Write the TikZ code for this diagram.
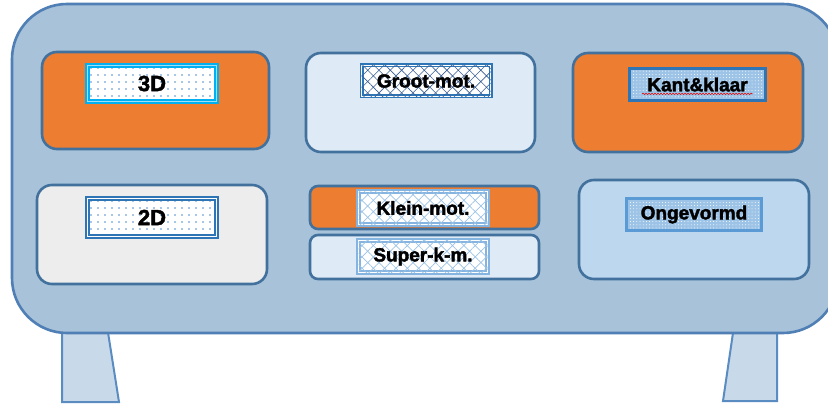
\documentclass[tikz,border=0pt]{standalone}
\usepackage{fontspec}
\setmainfont{Liberation Sans}
\newfontfamily\heavyfont{Liberation Sans Bold}[FakeBold=2]
\usetikzlibrary{patterns.meta,decorations.pathmorphing}
\definecolor{bodyfill}{HTML}{A8C2DA}
\definecolor{bodyline}{HTML}{4F7FB5}
\definecolor{boxline}{HTML}{41719C}
\definecolor{legfill}{HTML}{C8D9E9}
\definecolor{legline}{HTML}{5A8CC2}
\definecolor{orangefill}{HTML}{ED7D31}
\definecolor{palefill}{HTML}{DEEBF7}
\definecolor{grayfill}{HTML}{EDEDED}
\definecolor{skyfill}{HTML}{BDD7EE}
\definecolor{cyanline}{HTML}{00B0F0}
\definecolor{cyanlight}{HTML}{9FE0F8}
\definecolor{midblue}{HTML}{2E75B6}
\definecolor{lightblue}{HTML}{9DC3E6}
\definecolor{softblue}{HTML}{5B9BD5}
\definecolor{dotblue}{HTML}{4F8FD0}
\definecolor{hatchdark}{HTML}{3A5F95}
\begin{document}
\begin{tikzpicture}[x=1pt,y=-1pt,
  box/.style={draw=boxline, line width=2.6pt, rounded corners=15pt, inner sep=0pt},
  lab/.style={inner sep=0pt, font=\heavyfont\fontsize{19}{20}\selectfont},
  dotlab/.style={lab, draw=cyanline, double=cyanlight, double distance=1.2pt, line width=1.9pt,
     preaction={fill=white}, pattern={Dots[distance=7pt,radius=0.8pt]}, pattern color=dotblue},
  hatchlab/.style={lab, draw=midblue, double=white, double distance=0.8pt, line width=1.6pt,
     preaction={fill=white}, postaction={pattern={Hatch[angle=45,distance=8pt,line width=0.6pt]}, pattern color=hatchdark}},
  softhatchlab/.style={lab, draw=lightblue, double=white, double distance=0.8pt, line width=1.7pt,
     preaction={fill=white}, postaction={pattern={Hatch[angle=45,distance=8pt,line width=0.7pt]}, pattern color=lightblue}},
  bluedotlab/.style={lab, line width=2.4pt,
     preaction={fill=lightblue}, pattern={Dots[distance=3.2pt,radius=0.5pt]}, pattern color=white},
  legshape/.style={draw=legline, fill=legfill, line width=2pt, line join=miter}
]
\useasboundingbox (0,0) rectangle (828,404);
\fill[white] (0,0) rectangle (828,404);
% legs
\draw[legshape] (62,326) -- (107,326) -- (119,402) -- (62,402) -- cycle;
\draw[legshape] (734,326) -- (777,326) -- (777,401) -- (723,401) -- cycle;
% main body
\node[draw=bodyline, fill=bodyfill, line width=2.6pt, rounded corners=55pt,
      minimum width=826pt, minimum height=329pt, inner sep=0pt] (body) at (425,168.5) {};
% boxes
\node[box, fill=orangefill, minimum width=227pt, minimum height=97pt] (b3d) at (155.5,100.5) {};
\node[box, fill=palefill,   minimum width=229pt, minimum height=99pt] (bgroot) at (420.5,102.5) {};
\node[box, fill=orangefill, minimum width=230pt, minimum height=99pt] (bkant) at (688,102.5) {};
\node[box, fill=grayfill,   minimum width=230pt, minimum height=99pt] (b2d) at (152,234.5) {};
\node[box, fill=orangefill, minimum width=229pt, minimum height=43pt, rounded corners=8pt] (bklein) at (424.5,207.5) {};
\node[box, fill=palefill,   minimum width=229pt, minimum height=44pt, rounded corners=8pt] (bsuper) at (424.5,257) {};
\node[box, fill=skyfill,    minimum width=230pt, minimum height=99pt] (bongev) at (694,229.5) {};
% labels
\node[dotlab, minimum width=129pt, minimum height=36pt, font=\heavyfont\fontsize{22}{24}\selectfont] (l3d) at (152,83.5) {3D};
\node[hatchlab, minimum width=129pt, minimum height=31pt] (lgroot) at (426,81) {Groot-mot.};
\node[bluedotlab, draw=midblue, line width=2.8pt, minimum width=136pt, minimum height=32pt] (lkant) at (697.5,84.5) {Kant\&klaar};
\draw[decorate, decoration={snake, segment length=3pt, amplitude=0.6pt}, red!85!black, line width=0.6pt]
  ([xshift=14pt,yshift=8pt]lkant.south west) -- ([xshift=-14pt,yshift=8pt]lkant.south east);
\node[dotlab, draw=midblue, double=white, minimum width=129pt, minimum height=38pt, font=\heavyfont\fontsize{22}{24}\selectfont] (l2d) at (152,217.5) {2D};
\node[softhatchlab, draw=softblue!75, minimum width=129pt, minimum height=33pt] (lklein) at (423,208) {Klein-mot.};
\node[softhatchlab, draw=softblue!75, minimum width=129pt, minimum height=32pt] (lsuper) at (423,256.5) {Super-k-m.};
\node[bluedotlab, draw=softblue, minimum width=135pt, minimum height=32pt] (longev) at (694,214.5) {Ongevormd};
\end{tikzpicture}
\end{document}
